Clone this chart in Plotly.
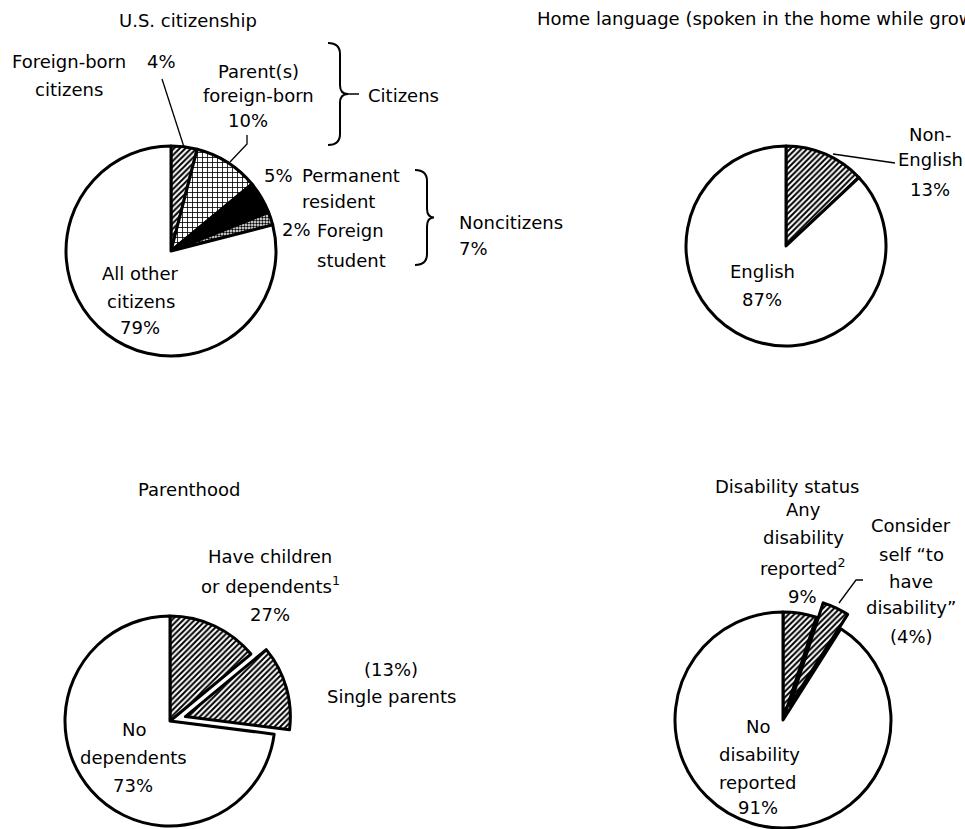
import math
import plotly.graph_objects as go

# ---------------- data ----------------
cit_labels = ["Foreign-born citizens", "Parent(s) foreign-born", "Permanent resident",
              "Foreign student", "All other citizens"]
cit_values = [4, 10, 5, 2, 79]

lang_labels = ["Non-English", "English"]
lang_values = [13, 87]

par_labels = ["Have children or dependents (not single parents)", "Single parents", "No dependents"]
par_values = [14, 13, 73]

dis_labels = ["Any disability reported (other)", "Consider self to have disability",
              "No disability reported"]
dis_values = [5, 4, 91]

# ---------------- layout helpers ----------------
W, H = 965, 829
CLEAR = "rgba(0,0,0,0)"
LW = 3
FONT = dict(family="DejaVu Sans, Verdana, sans-serif", size=18, color="black")


def px(x):
    return x / W


def py(y):
    return 1 - y / H


def dom(cx, cy, r, dx=0.0, dy=0.0):
    cx, cy = cx + dx, cy + dy
    return dict(x=[px(cx - r), px(cx + r)], y=[py(cy + r), py(cy - r)])


def slice_offset(values, i, dist):
    tot = sum(values)
    start = sum(values[:i]) / tot * 360
    mid = math.radians(start + values[i] / tot * 360 / 2)
    return dist * math.sin(mid), -dist * math.cos(mid)


def pie(labels, values, domain, colors, shapes, widths, sizes=None, solid=None):
    n = len(values)
    return go.Pie(
        labels=labels, values=values, domain=domain, sort=False,
        direction="clockwise", rotation=0, textinfo="none", hoverinfo="label+percent",
        showlegend=False,
        marker=dict(
            colors=colors,
            line=dict(color="black", width=widths),
            pattern=dict(shape=shapes, fgcolor="black", bgcolor="white",
                         size=sizes or [4] * n, solidity=solid or [0.5] * n),
        ),
    )


fig = go.Figure()

# Pie 1: U.S. citizenship
fig.add_trace(pie(cit_labels, cit_values, dom(171, 251, 105),
                  ["white", "white", "black", "white", "white"],
                  ["/", "+", "", ".", ""], [LW] * 5,
                  sizes=[4, 5, 4, 3, 4], solid=[0.5, 0.3, 0.5, 0.5, 0.5]))

# Pie 2: Home language
fig.add_trace(pie(lang_labels, lang_values, dom(786, 246, 100),
                  ["white", "white"], ["/", ""], [LW, LW]))

# Pie 3: Parenthood (single parents slice pulled out)
R3, C3 = 105, (170, 721)
fig.add_trace(pie(par_labels, par_values, dom(*C3, R3),
                  ["white", CLEAR, "white"], ["/", "", ""], [LW, 0, LW]))
ox, oy = slice_offset(par_values, 1, 16)
fig.add_trace(pie(par_labels, par_values, dom(*C3, R3, ox, oy),
                  [CLEAR, "white", CLEAR], ["", "/", ""], [0, LW, 0]))

# Pie 4: Disability status ("consider self" slice pulled out)
R4, C4 = 108, (783, 720)
fig.add_trace(pie(dis_labels, dis_values, dom(*C4, R4),
                  ["white", CLEAR, "white"], ["/", "", ""], [LW, 0, LW]))
ox, oy = slice_offset(dis_values, 1, 16)
fig.add_trace(pie(dis_labels, dis_values, dom(*C4, R4, ox, oy),
                  [CLEAR, "white", CLEAR], ["", "/", ""], [0, LW, 0]))

# ---------------- text ----------------
pct = lambda v: f"{v}%"
texts = [
    ("U.S. citizenship", 188, 26, "center"),
    ("Foreign-born", 69, 67, "center"), ("citizens", 69, 95, "center"),
    (pct(cit_values[0]), 161, 67, "center"),
    ("Parent(s)", 258, 77, "center"), ("foreign-born", 258, 102, "center"),
    (pct(cit_values[1]), 248, 126, "center"),
    ("Citizens", 403, 101, "center"),
    (pct(cit_values[2]), 278, 181, "center"), ("Permanent", 351, 181, "center"),
    ("resident", 338, 208, "center"),
    (pct(cit_values[3]), 296, 235, "center"), ("Foreign", 350, 236, "center"),
    ("student", 351, 266, "center"),
    ("Noncitizens", 457, 228, "left"), (pct(cit_values[2] + cit_values[3]), 457, 255, "left"),
    ("All other", 140, 279, "center"), ("citizens", 141, 307, "center"),
    (pct(cit_values[4]), 140, 333, "center"),
    ("Home language (spoken in the home while growing up)", 535, 24, "left"),
    ("Non-", 930, 141, "center"), ("English", 930, 166, "center"),
    (pct(lang_values[0]), 930, 196, "center"),
    ("English", 762, 277, "center"), (pct(lang_values[1]), 762, 305, "center"),
    ("Parenthood", 189, 495, "center"),
    ("Have children", 270, 562, "center"), ("or dependents<sup>1</sup>", 270, 591, "center"),
    (pct(par_values[0] + par_values[1]), 270, 620, "center"),
    ("(" + pct(par_values[1]) + ")", 391, 675, "center"), ("Single parents", 391, 702, "center"),
    ("No", 134, 735, "center"), ("dependents", 133, 763, "center"),
    (pct(par_values[2]), 133, 791, "center"),
    ("Disability status", 787, 492, "center"),
    ("Any", 803, 516, "center"), ("disability", 803, 543, "center"),
    ("reported<sup>2</sup>", 803, 573, "center"),
    (pct(dis_values[0] + dis_values[1]), 802, 602, "center"),
    ("Consider", 911, 531, "center"), ("self \u201cto", 911, 560, "center"),
    ("have", 911, 587, "center"), ("disability\u201d", 911, 613, "center"),
    ("(" + pct(dis_values[1]) + ")", 911, 642, "center"),
    ("No", 758, 732, "center"), ("disability", 759, 760, "center"),
    ("reported", 757, 788, "center"), (pct(dis_values[2]), 758, 813, "center"),
]
annotations = [
    dict(text=t, x=px(x), y=py(b - 6), xref="paper", yref="paper", xanchor=a,
         yanchor="middle", showarrow=False, font=FONT)
    for t, x, b, a in texts
]


def path(pts):
    out = []
    for cmd, coords in pts:
        vals = []
        for i in range(0, len(coords), 2):
            vals.append(f"{px(coords[i]):.5f},{py(coords[i + 1]):.5f}")
        out.append(cmd + " ".join(vals))
    return " ".join(out)


def brace(x0, y0, y1, xv, xt):
    ym = (y0 + y1) / 2
    return path([("M", [x0, y0]), ("Q", [xv, y0, xv, y0 + 11]), ("L", [xv, ym - 9]),
                 ("Q", [xv, ym, xt, ym]), ("Q", [xv, ym, xv, ym + 9]),
                 ("L", [xv, y1 - 11]), ("Q", [xv, y1, x0, y1])])


line_style = dict(color="black", width=1.3)
shapes = [
    dict(type="path", xref="paper", yref="paper", path=brace(328, 43, 145, 340, 348),
         line=dict(color="black", width=2)),
    dict(type="path", xref="paper", yref="paper", path=path([("M", [348, 94]), ("L", [359, 94])]),
         line=dict(color="black", width=1.5)),
    dict(type="path", xref="paper", yref="paper", path=brace(415, 170, 265, 427, 434),
         line=dict(color="black", width=2)),
    # leader lines
    dict(type="path", xref="paper", yref="paper", path=path([("M", [162, 79]), ("L", [184, 147])]),
         line=line_style),
    dict(type="path", xref="paper", yref="paper",
         path=path([("M", [247, 135]), ("L", [247, 144]), ("L", [230, 162])]), line=line_style),
    dict(type="path", xref="paper", yref="paper", path=path([("M", [833, 154]), ("L", [895, 163])]),
         line=line_style),
    dict(type="path", xref="paper", yref="paper",
         path=path([("M", [863, 580]), ("L", [856, 580]), ("L", [839, 603])]), line=line_style),
]

fig.update_layout(
    width=W, height=H, margin=dict(l=0, r=0, t=0, b=0),
    paper_bgcolor="white", plot_bgcolor="white",
    annotations=annotations, shapes=shapes, showlegend=False,
)

fig.write_html("out.html", config={"displayModeBar": False},
               post_script="document.body.style.margin='0px';")
